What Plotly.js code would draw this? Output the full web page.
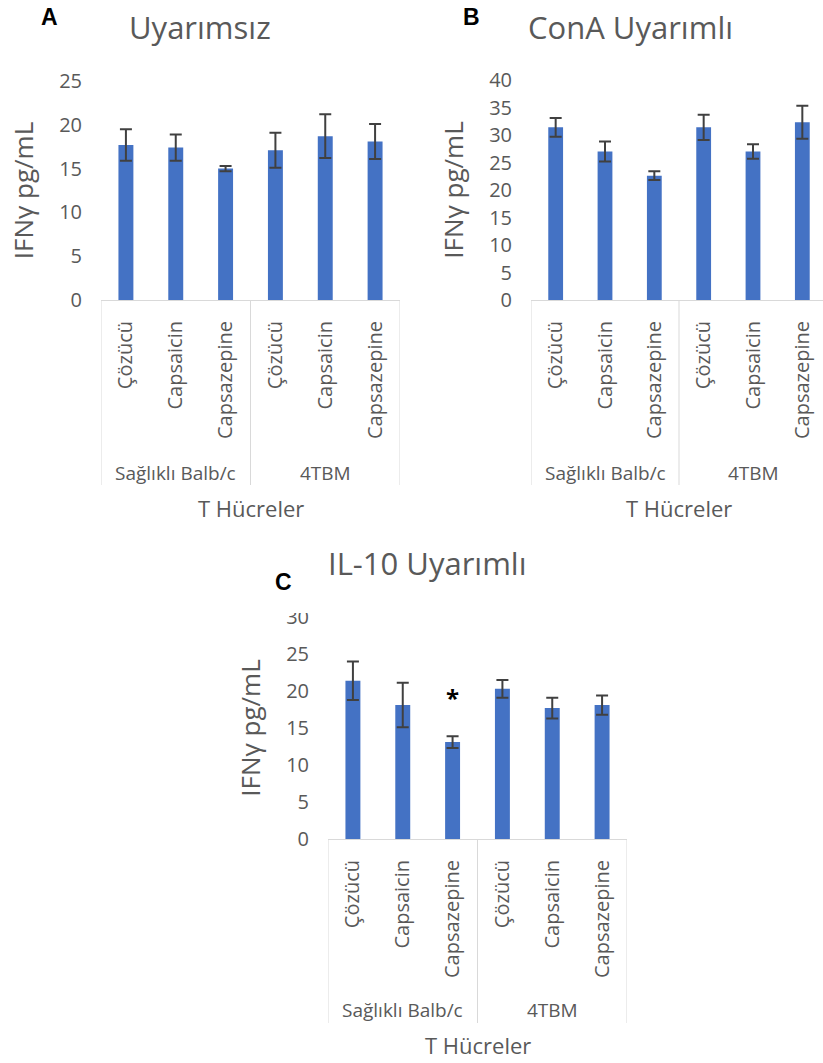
<!DOCTYPE html>
<html><head><meta charset="utf-8">
<script src="https://cdn.plot.ly/plotly-3.0.1.min.js"></script>
<style>html,body{margin:0;padding:0;overflow:hidden;background:#fff}</style>
</head><body><div id="chart"></div>
<script>
// ---- data ----
const categories = ["Çözücü","Capsaicin","Capsazepine","Çözücü","Capsaicin","Capsazepine"];
const groups = ["Sağlıklı Balb/c","4TBM"];
const groupCenters = [1, 4];
const groupEdges = [-0.5, 2.5, 5.5];
const uyarimsizMean = [17.7,17.4,15.0,17.1,18.7,18.1];
const uyarimsizErr  = [1.8,1.5,0.3,2.0,2.5,2.0];
const conaMean = [31.4,27.0,22.6,31.4,27.0,32.3];
const conaErr  = [1.7,1.8,0.8,2.3,1.3,3.0];
const il10Mean = [21.4,18.1,13.1,20.3,17.7,18.1];
const il10Err  = [2.6,3.0,0.8,1.2,1.4,1.3];
const il10Sig  = ["","","*","","",""];
const panelTitles = ["Uyarımsız","ConA Uyarımlı","IL-10 Uyarımlı"];
const panelLetters = ["A","B","C"];
const yTitle = "IFNγ pg/mL";
const xTitle = "T Hücreler";
const yMax = [25, 40, 30];

// ---- layout geometry (pixels) ----
const W = 830, H = 1063;
const px = v => v / W, py = v => 1 - v / H;
const panels = [
  {x0:101, x1:400, top:81, bot:300, divBot:485, grpY:473, xtY:508, titleX:200, titleY:27, letX:49, letY:17},
  {x0:531, x1:827, top:80, bot:300, divBot:485, grpY:473, xtY:508, titleX:630, titleY:27, letX:471, letY:17},
  {x0:328, x1:627, top:617, bot:839, divBot:1023, grpY:1010, xtY:1045, titleX:427, titleY:563, letX:283, letY:582}
];
const means = [uyarimsizMean, conaMean, il10Mean];
const errs = [uyarimsizErr, conaErr, il10Err];

const FONT = "'Open Sans', Lato, sans-serif";
const GRAY = "#595959";
const idx = categories.map((_, i) => i);

const data = [], shapes = [], annotations = [];
const layout = {
  width: W, height: H, margin: {l:0, r:0, t:0, b:0},
  paper_bgcolor: "#fff", plot_bgcolor: "#fff",
  showlegend: false, bargap: 0.7,
  font: {family: FONT, color: GRAY}
};
const ann = o => Object.assign({showarrow: false, xanchor: "center", yanchor: "middle"}, o);

panels.forEach((p, k) => {
  const sfx = k === 0 ? "" : String(k + 1);
  data.push({
    type: "bar", x: idx, y: means[k], xaxis: "x" + sfx, yaxis: "y" + sfx,
    marker: {color: "#4472C4"},
    error_y: {type: "data", array: errs[k], visible: true, color: "#404040", thickness: 2, width: 6},
    hoverinfo: "y"
  });
  layout["xaxis" + sfx] = {
    domain: [px(p.x0), px(p.x1)], anchor: "y" + sfx,
    range: [-0.5, 5.5], tickmode: "array", tickvals: idx, ticktext: categories,
    tickangle: -90, ticks: "", showgrid: false, zeroline: false,
    showline: true, linecolor: "#d9d9d9", linewidth: 1,
    tickfont: {family: FONT, size: 20, color: GRAY}, ticklabelstandoff: 12
  };
  layout["yaxis" + sfx] = {
    domain: [py(p.bot), py(p.top)], anchor: "x" + sfx,
    range: [0, yMax[k]], dtick: 5, ticks: "", showgrid: false, zeroline: false, showline: false,
    tickfont: {family: FONT, size: 20, color: GRAY}, ticklabelstandoff: 18,
    title: {text: yTitle, font: {family: FONT, size: 26, color: GRAY}, standoff: 18}
  };
  groupEdges.forEach(e => shapes.push({
    type: "line", xref: "x" + sfx, yref: "paper", x0: e, x1: e,
    y0: py(p.bot + 1), y1: py(p.divBot), line: {color: "#d9d9d9", width: 1}
  }));
  groups.forEach((g, j) => annotations.push(ann({
    xref: "x" + sfx, yref: "paper", x: groupCenters[j], y: py(p.grpY),
    text: g, font: {family: FONT, size: 19, color: GRAY}
  })));
  annotations.push(ann({
    xref: "paper", yref: "paper", x: px((p.x0 + p.x1) / 2), y: py(p.xtY),
    text: xTitle, font: {family: FONT, size: 22, color: GRAY}
  }));
  annotations.push(ann({
    xref: "paper", yref: "paper", x: px(p.titleX), y: py(p.titleY),
    text: panelTitles[k], font: {family: FONT, size: 31, color: GRAY}
  }));
  annotations.push(ann({
    xref: "paper", yref: "paper", x: px(p.letX), y: py(p.letY),
    text: "<b>" + panelLetters[k] + "</b>",
    font: {family: "'Liberation Sans', Arial, sans-serif", size: 23, color: "#000"}
  }));
});

// significance marks on panel C
il10Sig.forEach((s, i) => {
  if (!s) return;
  annotations.push(ann({
    xref: "x3", yref: "y3", x: i, y: il10Mean[i] + il10Err[i], yanchor: "bottom", yshift: 20,
    text: "<b>" + s + "</b>", font: {family: FONT, size: 24, color: "#000"}
  }));
});

// white patch partly hiding the top tick label of panel C (as in the original)
shapes.push({type: "rect", xref: "paper", yref: "paper", layer: "above",
  x0: px(265), x1: px(318), y0: py(598), y1: py(613), fillcolor: "#fff", line: {width: 0}});

layout.shapes = shapes;
layout.annotations = annotations;
Plotly.newPlot("chart", data, layout, {staticPlot: true});
</script>
</body></html>
